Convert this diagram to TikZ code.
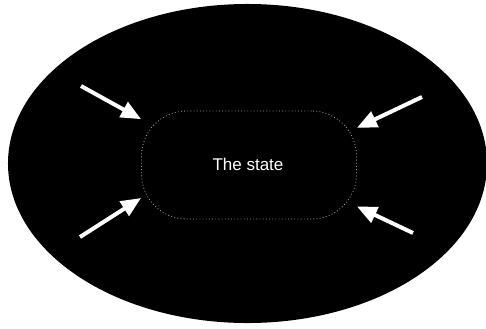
\documentclass[tikz,border=0pt]{standalone}
\usepackage{fontspec}
\setmainfont{Liberation Sans}
\usetikzlibrary{arrows.meta,shapes.geometric}
\tikzset{
  every picture/.style={line width=0.7pt, x=0.03cm, y=0.03cm},
  sworld/.style={ellipse, fill=black, inner sep=0pt, minimum width=14.37cm, minimum height=9.57cm},
  sstate/.style={rectangle, rounded corners=1.35cm, draw=gray!70, dotted, fill=black,
                 minimum width=6.45cm, minimum height=3.24cm, inner sep=0pt},
  sarrow/.style={draw=white, line width=3.4pt,
                 -{Triangle[length=0.6cm, width=0.5cm]}},
  slabel/.style={text=white, font=\fontsize{14.5}{17}\selectfont},
}

\begin{document}
\begin{tikzpicture}
\useasboundingbox (0,0) rectangle (486,328);
\node[sworld] (world) at (247.5,164.5) {};
\node[sstate] (state) at (249,163) {};
\node[slabel] (lbl) at (248,164) {The state};
\coordinate (tl) at (81,242); \coordinate (tr) at (422,231);
\coordinate (bl) at (80,91);  \coordinate (br) at (413,95);
\draw[sarrow] (tl) -- (state.157); \draw[sarrow] (tr) -- (state.19);
\draw[sarrow] (bl) -- (state.197); \draw[sarrow] (br) -- (state.339);
\end{tikzpicture}
\end{document}
